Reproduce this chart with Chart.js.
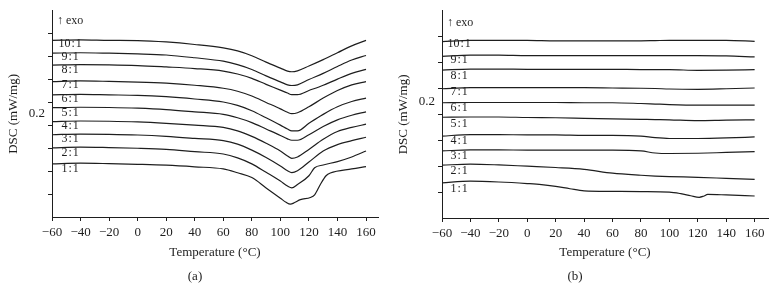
<!DOCTYPE html>
<html>
<head>
<meta charset="utf-8">
<script src="https://cdn.jsdelivr.net/npm/chart.js@4"></script>
<style>
  body { margin: 0; background: #fff; }
  #wrap { position: relative; width: 777px; height: 304px; }
  canvas { position: absolute; top: 0; }
  #chart-a { left: 0; }
  #chart-b { left: 390px; }
</style>
</head>
<body>
<div id="wrap">
  <canvas id="chart-a" width="390" height="304"></canvas>
  <canvas id="chart-b" width="387" height="304"></canvas>
</div>
<script>
const INK = "#1e1e1e";
const SERIF = '"Liberation Serif", "DejaVu Serif", serif';

const ratioLabels = ["10 : 1", "9 : 1", "8 : 1", "7 : 1", "6 : 1", "5 : 1", "4 : 1", "3 : 1", "2 : 1", "1 : 1"];

// Panel (a) - temperatures (°C) and stacked DSC traces (offset units)
const tempA = [-60, -40, -20, 0, 20, 40, 60, 70, 80, 90, 100, 105, 108, 112, 120, 130, 140, 150, 160];
const tempA2 = [-60, -40, -20, 0, 20, 40, 60, 70, 80, 90, 100, 105, 108, 112, 120, 124, 130, 140, 150, 160];
const tempA1 = [-60, -40, -20, 0, 20, 40, 60, 70, 80, 90, 100, 104, 107, 110, 114, 121, 124, 128, 132, 135, 150, 160];

const dscA10 = [7.71, 7.73, 7.71, 7.70, 7.64, 7.53, 7.38, 7.25, 7.04, 6.76, 6.50, 6.37, 6.34, 6.38, 6.59, 6.87, 7.17, 7.47, 7.71];
const dscA9 = [7.15, 7.17, 7.15, 7.12, 7.07, 6.95, 6.80, 6.65, 6.44, 6.16, 5.90, 5.77, 5.74, 5.77, 6.00, 6.27, 6.57, 6.85, 7.05];
const dscA8 = [6.63, 6.65, 6.64, 6.61, 6.55, 6.48, 6.37, 6.24, 6.05, 5.79, 5.54, 5.41, 5.34, 5.34, 5.52, 5.75, 6.02, 6.27, 6.44];
const dscA7 = [5.91, 5.94, 5.92, 5.89, 5.84, 5.75, 5.62, 5.49, 5.28, 5.00, 4.72, 4.57, 4.51, 4.55, 4.81, 5.19, 5.52, 5.77, 5.91];
const dscA6 = [5.33, 5.35, 5.33, 5.31, 5.25, 5.15, 5.02, 4.87, 4.64, 4.33, 4.01, 3.84, 3.76, 3.76, 4.09, 4.48, 4.81, 5.04, 5.19];
const dscA5 = [4.77, 4.79, 4.78, 4.75, 4.69, 4.59, 4.48, 4.33, 4.12, 3.84, 3.56, 3.41, 3.35, 3.35, 3.59, 3.95, 4.24, 4.44, 4.59];
const dscA4 = [4.16, 4.19, 4.18, 4.15, 4.09, 4.01, 3.91, 3.76, 3.52, 3.22, 2.88, 2.66, 2.56, 2.62, 2.95, 3.39, 3.73, 3.91, 4.05];
const dscA3 = [3.59, 3.62, 3.61, 3.58, 3.52, 3.43, 3.33, 3.18, 2.92, 2.60, 2.23, 2.02, 1.94, 2.02, 2.40, 2.88, 3.16, 3.33, 3.48];
const dscA2 = [3.02, 3.05, 3.03, 3.00, 2.95, 2.85, 2.75, 2.58, 2.32, 1.95, 1.57, 1.35, 1.27, 1.42, 1.80, 2.15, 2.27, 2.42, 2.62, 2.88];
const dscA1 = [2.32, 2.35, 2.33, 2.30, 2.26, 2.19, 2.10, 1.93, 1.72, 1.27, 0.82, 0.64, 0.56, 0.63, 0.76, 0.85, 0.97, 1.42, 1.80, 1.92, 2.10, 2.20];

// Panel (b)
const tempB = [-60, -40, -20, 0, 20, 40, 60, 80, 90, 100, 120, 140, 160];
const tempB1 = [-60, -40, -20, 0, 10, 20, 30, 40, 60, 80, 100, 108, 115, 121, 124, 127, 140, 160];

const dscB10 = [6.81, 6.86, 6.86, 6.86, 6.84, 6.84, 6.84, 6.84, 6.85, 6.86, 6.86, 6.86, 6.82];
const dscB9 = [6.24, 6.29, 6.29, 6.27, 6.27, 6.27, 6.27, 6.27, 6.27, 6.27, 6.27, 6.26, 6.22];
const dscB8 = [5.71, 5.75, 5.75, 5.74, 5.74, 5.74, 5.74, 5.73, 5.73, 5.73, 5.70, 5.71, 5.73];
const dscB7 = [4.99, 5.03, 5.03, 5.03, 5.03, 5.03, 5.02, 5.01, 5.00, 4.98, 4.97, 4.99, 5.02];
const dscB6 = [4.45, 4.46, 4.46, 4.46, 4.46, 4.45, 4.45, 4.42, 4.40, 4.38, 4.36, 4.36, 4.36];
const dscB5 = [3.89, 3.90, 3.90, 3.88, 3.87, 3.85, 3.83, 3.81, 3.80, 3.79, 3.76, 3.78, 3.79];
const dscB4 = [3.16, 3.22, 3.22, 3.21, 3.21, 3.19, 3.19, 3.16, 3.10, 3.07, 3.07, 3.09, 3.13];
const dscB3 = [2.59, 2.63, 2.63, 2.62, 2.62, 2.62, 2.62, 2.59, 2.51, 2.49, 2.50, 2.53, 2.56];
const dscB2 = [2.04, 2.08, 2.05, 2.00, 1.95, 1.88, 1.73, 1.65, 1.62, 1.60, 1.57, 1.53, 1.49];
const dscB1 = [1.36, 1.42, 1.39, 1.33, 1.29, 1.22, 1.13, 1.05, 1.03, 1.02, 1.00, 0.94, 0.86, 0.80, 0.84, 0.91, 0.89, 0.85];

// y tick positions; the 4.5 one only carries the "0.2" label
const yTicksA = [1, 2, 3, 4, 4.5, 5, 6, 7, 8];
const yTicksB = [1, 2, 3, 4, 4.5, 5, 6, 7];
const scaleLabelAt = 4.5;

function pairs(xs, ys) {
  return xs.map((x, i) => ({ x, y: ys[i] }));
}

function trace(xs, ys) {
  return {
    data: pairs(xs, ys),
    borderColor: INK,
    borderWidth: 1.2,
    pointRadius: 0,
    cubicInterpolationMode: "monotone",
    fill: false,
  };
}

// text inside the plot: "↑ exo", ratio labels, panel letter
function annotations(opts) {
  return {
    id: "annotations",
    afterDraw(chart) {
      const ctx = chart.ctx;
      ctx.save();
      ctx.fillStyle = INK;
      ctx.textBaseline = "middle";
      ctx.textAlign = "left";
      ctx.font = `12px ${SERIF}`;
      ctx.fillText("\u2191 exo", opts.exo[0], opts.exo[1]);
      ctx.wordSpacing = "-2px";
      ratioLabels.forEach((t, i) => {
        const x = i === 0 ? opts.labelX - 3 : opts.labelX;
        ctx.fillText(t, x, opts.labelY[i]);
      });
      ctx.wordSpacing = "0px";
      ctx.font = `13px ${SERIF}`;
      ctx.textAlign = "center";
      ctx.fillText(opts.letter, opts.letterPos[0], opts.letterPos[1]);
      ctx.restore();
    },
  };
}

function makePanel(canvasId, datasets, xMax, yMax, yTicks, chartBottom, rightPad, notes) {
  return new Chart(document.getElementById(canvasId), {
    type: "line",
    data: { datasets },
    options: {
      responsive: false,
      animation: false,
      layout: { padding: { top: 8, right: rightPad, left: 0, bottom: 0 } },
      plugins: { legend: { display: false }, tooltip: { enabled: false } },
      scales: {
        x: {
          type: "linear",
          min: -60,
          max: xMax,
          afterFit: (s) => { s.height = 304 - chartBottom; },
          border: { display: true, color: INK, width: 1 },
          grid: { drawOnChartArea: false, drawTicks: true, tickLength: 4, color: INK },
          ticks: {
            stepSize: 20,
            includeBounds: false,
            autoSkip: false,
            maxRotation: 0,
            padding: 4,
            color: INK,
            font: { family: SERIF, size: 13 },
            callback: (v) => String(v).replace("-", "\u2212"),
          },
          title: {
            display: true,
            text: "Temperature (\u00b0C)",
            color: INK,
            font: { family: SERIF, size: 13 },
            padding: { top: 0, bottom: 44 },
          },
        },
        y: {
          min: 0,
          max: yMax,
          afterFit: (s) => { s.width = 52; },
          afterBuildTicks: (s) => { s.ticks = yTicks.map((v) => ({ value: v })); },
          border: { display: true, color: INK, width: 1 },
          grid: {
            drawOnChartArea: false,
            drawTicks: true,
            tickLength: 4,
            color: INK,
            tickColor: (c) => (c.tick && c.tick.value === scaleLabelAt ? "rgba(0,0,0,0)" : INK),
          },
          ticks: {
            autoSkip: false,
            padding: 3,
            color: INK,
            font: { family: SERIF, size: 13 },
            callback: (v) => (v === scaleLabelAt ? "0.2" : ""),
          },
          title: {
            display: true,
            text: "DSC (mW/mg)",
            color: INK,
            font: { family: SERIF, size: 13 },
            padding: { top: 6, bottom: 0 },
          },
        },
      },
    },
    plugins: [annotations(notes)],
  });
}

makePanel(
  "chart-a",
  [
    trace(tempA, dscA10),
    trace(tempA, dscA9),
    trace(tempA, dscA8),
    trace(tempA, dscA7),
    trace(tempA, dscA6),
    trace(tempA, dscA5),
    trace(tempA, dscA4),
    trace(tempA, dscA3),
    trace(tempA2, dscA2),
    trace(tempA1, dscA1),
  ],
  168.4, 9, yTicksA, 217, 12,
  {
    exo: [57, 21],
    labelX: 61.5,
    labelY: [43.5, 57, 70, 85, 99, 112.5, 126, 139, 153, 169],
    letter: "(a)",
    letterPos: [195, 277],
  },
);

makePanel(
  "chart-b",
  [
    trace(tempB, dscB10),
    trace(tempB, dscB9),
    trace(tempB, dscB8),
    trace(tempB, dscB7),
    trace(tempB, dscB6),
    trace(tempB, dscB5),
    trace(tempB, dscB4),
    trace(tempB, dscB3),
    trace(tempB, dscB2),
    trace(tempB1, dscB1),
  ],
  169.4, 8, yTicksB, 218, 9,
  {
    exo: [57, 22.5],
    labelX: 60.5,
    labelY: [44.3, 60, 75.5, 92, 108, 123.5, 141, 155.7, 171, 188.5],
    letter: "(b)",
    letterPos: [185, 277],
  },
);
</script>
</body>
</html>
